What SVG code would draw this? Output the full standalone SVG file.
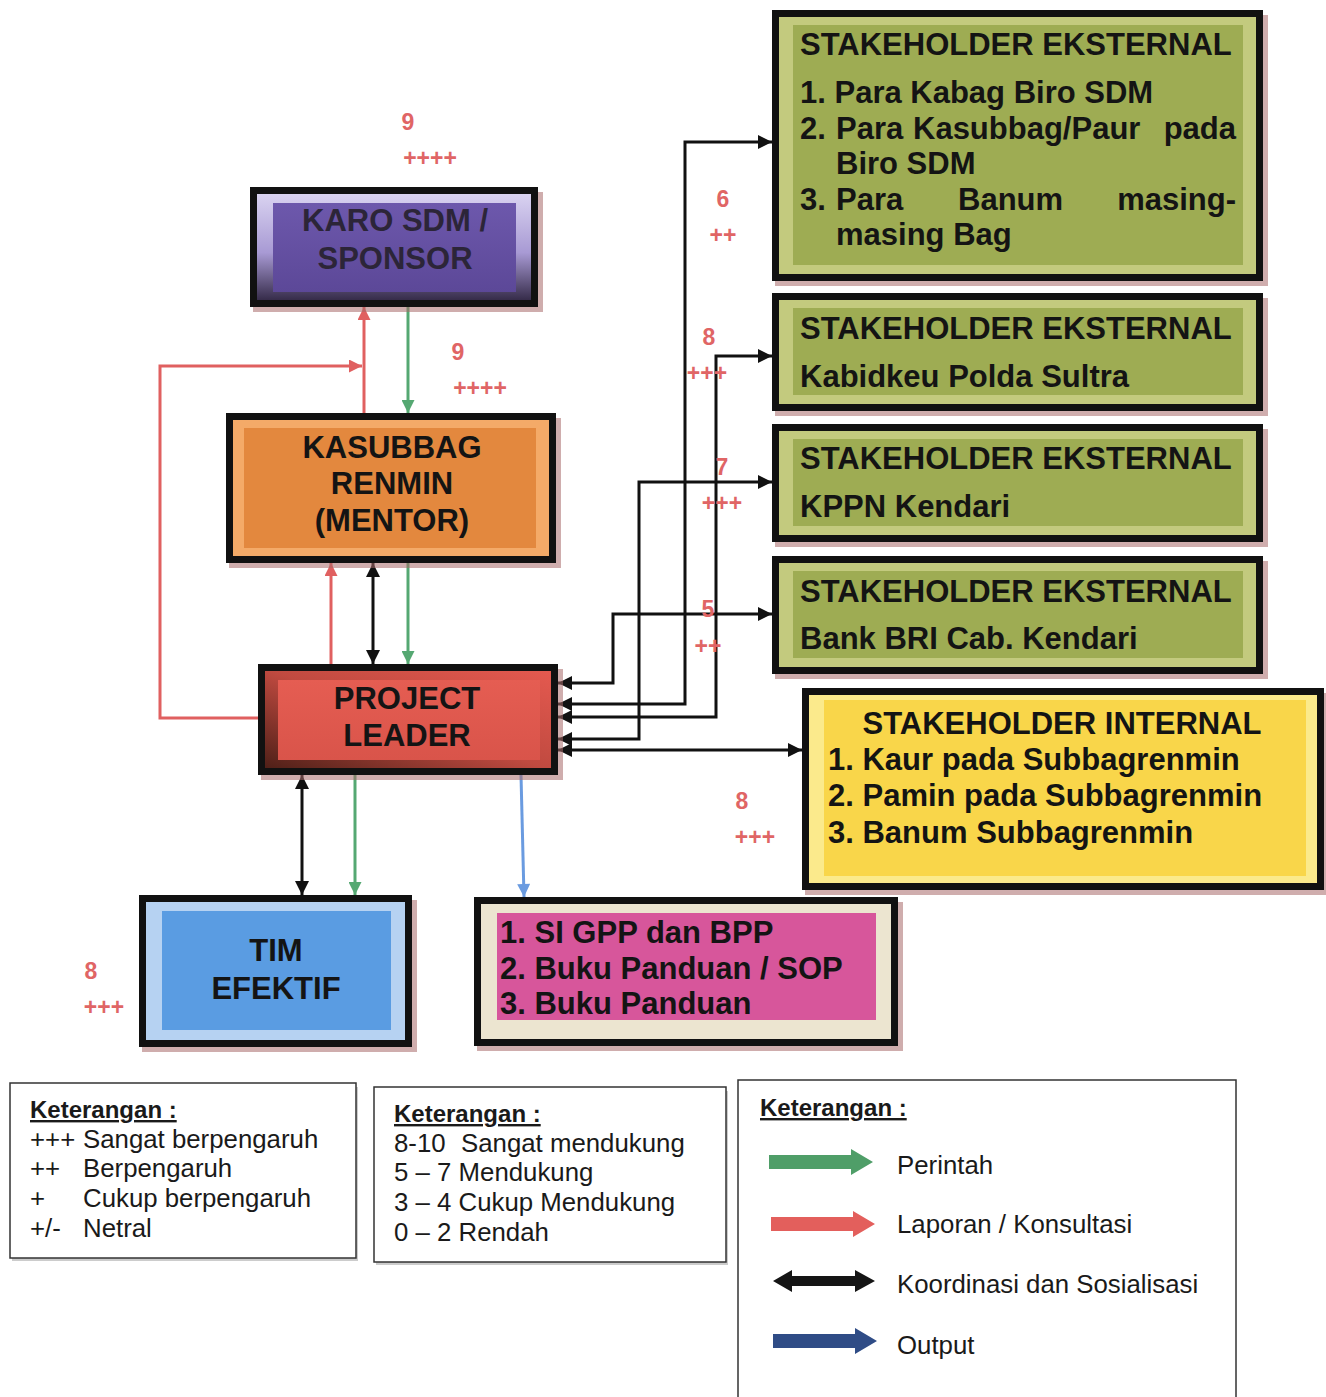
<svg xmlns="http://www.w3.org/2000/svg" width="1326" height="1397" viewBox="0 0 1326 1397">
<style>
.nt{font-family:"Liberation Sans",Arial,sans-serif;font-weight:bold;font-size:31px;fill:#141414}
.ntc{font-family:"Liberation Sans",Arial,sans-serif;font-weight:bold;font-size:31px;fill:#141414;text-anchor:middle}
.rl{font-family:"Liberation Sans",Arial,sans-serif;font-weight:bold;font-size:23px;fill:#e06565;text-anchor:middle}
.lg{font-family:"Liberation Sans",Arial,sans-serif;font-size:25.8px;fill:#1a1a1a}
.lh{font-family:"Liberation Sans",Arial,sans-serif;font-size:24px;font-weight:bold;fill:#1a1a1a;text-decoration:underline}
.bd{fill:none;stroke:#111;stroke-width:7}
.sh{fill:#a86a6a;opacity:0.55}
.cb{fill:none;stroke:#111;stroke-width:3}
.cr{fill:none;stroke:#e06060;stroke-width:3}
.cg{fill:none;stroke:#55a872;stroke-width:3}
.cu{fill:none;stroke:#6a9be0;stroke-width:3}
.lbox{fill:#fff;stroke:#333;stroke-width:1.5}
</style>
<defs>
<marker id="ab" viewBox="0 0 10 10" refX="10" refY="5" markerWidth="15" markerHeight="14" markerUnits="userSpaceOnUse" orient="auto-start-reverse"><path d="M0,0 L10,5 L0,10 z" fill="#111"/></marker>
<marker id="ar" viewBox="0 0 10 10" refX="10" refY="5" markerWidth="15" markerHeight="13" markerUnits="userSpaceOnUse" orient="auto-start-reverse"><path d="M0,0 L10,5 L0,10 z" fill="#e06060"/></marker>
<marker id="ag" viewBox="0 0 10 10" refX="10" refY="5" markerWidth="15" markerHeight="13" markerUnits="userSpaceOnUse" orient="auto-start-reverse"><path d="M0,0 L10,5 L0,10 z" fill="#55a872"/></marker>
<marker id="au" viewBox="0 0 10 10" refX="10" refY="5" markerWidth="15" markerHeight="13" markerUnits="userSpaceOnUse" orient="auto-start-reverse"><path d="M0,0 L10,5 L0,10 z" fill="#6a9be0"/></marker>
<linearGradient id="gKaroF" x1="0" y1="0" x2="0" y2="1"><stop offset="0" stop-color="#dcd6f2"/><stop offset="0.55" stop-color="#a89ad4"/><stop offset="1" stop-color="#2e2440"/></linearGradient>
<linearGradient id="gKaroI" x1="0" y1="0" x2="0" y2="1"><stop offset="0" stop-color="#6d58ac"/><stop offset="1" stop-color="#5c4898"/></linearGradient>
<linearGradient id="gPLF" x1="1" y1="0" x2="0" y2="1"><stop offset="0" stop-color="#e65a50"/><stop offset="0.5" stop-color="#c04a40"/><stop offset="1" stop-color="#4a1e16"/></linearGradient>
<linearGradient id="gPLI" x1="0" y1="0" x2="0" y2="1"><stop offset="0" stop-color="#e55d52"/><stop offset="1" stop-color="#d9544a"/></linearGradient>
</defs>

<g id="connectors">
<path class="cr" d="M364,413 V307" marker-end="url(#ar)"/>
<path class="cg" d="M408,307 V413" marker-end="url(#ag)"/>
<path class="cr" d="M258,718 H160 V366 H362" marker-end="url(#ar)"/>
<path class="cr" d="M331,664 V563" marker-end="url(#ar)"/>
<path class="cb" d="M373,563 V664" marker-start="url(#ab)" marker-end="url(#ab)"/>
<path class="cg" d="M408,563 V664" marker-end="url(#ag)"/>
<path class="cb" d="M302,775 V895" marker-start="url(#ab)" marker-end="url(#ab)"/>
<path class="cg" d="M355,775 V895" marker-end="url(#ag)"/>
<path class="cu" d="M521,775 L524,897" marker-end="url(#au)"/>
<path class="cb" d="M558,683 H613 V614 H772" marker-start="url(#ab)" marker-end="url(#ab)"/>
<path class="cb" d="M558,704 H685 V142 H772" marker-start="url(#ab)" marker-end="url(#ab)"/>
<path class="cb" d="M558,717 H716 V356 H772" marker-start="url(#ab)" marker-end="url(#ab)"/>
<path class="cb" d="M558,739 H639 V482 H772" marker-start="url(#ab)" marker-end="url(#ab)"/>
<path class="cb" d="M558,750 H802" marker-start="url(#ab)" marker-end="url(#ab)"/>
</g>

<g id="labels">
<text class="rl" x="408" y="130">9</text>
<text class="rl" x="430" y="166">++++</text>
<text class="rl" x="458" y="360">9</text>
<text class="rl" x="480" y="396">++++</text>
<text class="rl" x="723" y="207">6</text>
<text class="rl" x="723" y="243">++</text>
<text class="rl" x="709" y="345">8</text>
<text class="rl" x="707" y="381">+++</text>
<text class="rl" x="722" y="475">7</text>
<text class="rl" x="722" y="511">+++</text>
<text class="rl" x="708" y="617">5</text>
<text class="rl" x="708" y="654">++</text>
<text class="rl" x="742" y="809">8</text>
<text class="rl" x="755" y="845">+++</text>
<text class="rl" x="91" y="979">8</text>
<text class="rl" x="104" y="1015">+++</text>
</g>

<g id="karo">
<rect class="sh" x="253" y="192" width="290" height="120"/>
<rect x="253.5" y="190.5" width="281" height="113" fill="url(#gKaroF)"/>
<rect x="273" y="203" width="243" height="89" fill="url(#gKaroI)"/>
<rect class="bd" x="253.5" y="190.5" width="281" height="113"/>
<text class="ntc" x="395" y="231" style="fill:#2c2538">KARO SDM /</text>
<text class="ntc" x="395" y="269" style="fill:#2c2538">SPONSOR</text>
</g>

<g id="kasubbag">
<rect class="sh" x="229" y="418" width="332" height="150"/>
<rect x="229.5" y="416.5" width="323" height="143" fill="#f4aa68"/>
<rect x="244" y="428" width="292" height="120" fill="#e3883e"/>
<rect class="bd" x="229.5" y="416.5" width="323" height="143"/>
<text class="ntc" x="392" y="458">KASUBBAG</text>
<text class="ntc" x="392" y="494">RENMIN</text>
<text class="ntc" x="392" y="531">(MENTOR)</text>
</g>

<g id="project-leader">
<rect class="sh" x="261" y="669" width="302" height="111"/>
<rect x="261.5" y="667.5" width="293" height="104" fill="url(#gPLF)"/>
<rect x="278" y="680" width="262" height="80" fill="url(#gPLI)"/>
<rect class="bd" x="261.5" y="667.5" width="293" height="104"/>
<text class="ntc" x="407" y="709">PROJECT</text>
<text class="ntc" x="407" y="746">LEADER</text>
</g>

<g id="tim-efektif">
<rect class="sh" x="142" y="900" width="275" height="152"/>
<rect x="142.5" y="898.5" width="266" height="145" fill="#b6d2f2"/>
<rect x="162" y="911" width="229" height="119" fill="#5a9ce2"/>
<rect class="bd" x="142.5" y="898.5" width="266" height="145"/>
<text class="ntc" x="276" y="961">TIM</text>
<text class="ntc" x="276" y="999">EFEKTIF</text>
</g>

<g id="output">
<rect class="sh" x="477" y="902" width="426" height="149"/>
<rect x="477.5" y="900.5" width="417" height="142" fill="#ece5d0"/>
<rect x="497" y="913" width="379" height="107" fill="#d7569b"/>
<rect class="bd" x="477.5" y="900.5" width="417" height="142"/>
<text class="nt" x="500" y="943">1. SI GPP dan BPP</text>
<text class="nt" x="500" y="979">2. Buku Panduan / SOP</text>
<text class="nt" x="500" y="1014">3. Buku Panduan</text>
</g>

<g id="stakeholder-eksternal-1">
<rect class="sh" x="775" y="15" width="493" height="271"/>
<rect x="775.5" y="13.5" width="484" height="264" fill="#c3ca7e"/>
<rect x="793" y="25" width="450" height="240" fill="#9eac53"/>
<rect class="bd" x="775.5" y="13.5" width="484" height="264"/>
<text class="nt" x="800" y="55">STAKEHOLDER EKSTERNAL</text>
<text class="nt" x="800" y="103">1. Para Kabag Biro SDM</text>
<text class="nt" y="139"><tspan x="800">2.</tspan><tspan x="836">Para</tspan><tspan x="913">Kasubbag/Paur</tspan><tspan x="1236" text-anchor="end">pada</tspan></text>
<text class="nt" x="836" y="174">Biro SDM</text>
<text class="nt" y="210"><tspan x="800">3.</tspan><tspan x="836">Para</tspan><tspan x="958">Banum</tspan><tspan x="1236" text-anchor="end">masing-</tspan></text>
<text class="nt" x="836" y="245">masing Bag</text>
</g>

<g id="stakeholder-eksternal-2">
<rect class="sh" x="775" y="298" width="493" height="118"/>
<rect x="775.5" y="296.5" width="484" height="111" fill="#c3ca7e"/>
<rect x="793" y="308" width="450" height="87" fill="#9eac53"/>
<rect class="bd" x="775.5" y="296.5" width="484" height="111"/>
<text class="nt" x="800" y="339">STAKEHOLDER EKSTERNAL</text>
<text class="nt" x="800" y="387">Kabidkeu Polda Sultra</text>
</g>

<g id="stakeholder-eksternal-3">
<rect class="sh" x="775" y="429" width="493" height="118"/>
<rect x="775.5" y="427.5" width="484" height="111" fill="#c3ca7e"/>
<rect x="793" y="439" width="450" height="87" fill="#9eac53"/>
<rect class="bd" x="775.5" y="427.5" width="484" height="111"/>
<text class="nt" x="800" y="469">STAKEHOLDER EKSTERNAL</text>
<text class="nt" x="800" y="517">KPPN Kendari</text>
</g>

<g id="stakeholder-eksternal-4">
<rect class="sh" x="775" y="561" width="493" height="118"/>
<rect x="775.5" y="559.5" width="484" height="111" fill="#c3ca7e"/>
<rect x="793" y="571" width="450" height="87" fill="#9eac53"/>
<rect class="bd" x="775.5" y="559.5" width="484" height="111"/>
<text class="nt" x="800" y="602">STAKEHOLDER EKSTERNAL</text>
<text class="nt" x="800" y="649">Bank BRI Cab. Kendari</text>
</g>

<g id="stakeholder-internal">
<rect class="sh" x="805" y="693" width="521" height="202"/>
<rect x="805.5" y="691.5" width="515" height="195" fill="#fbea8c"/>
<rect x="824" y="700" width="482" height="176" fill="#f9d64a"/>
<rect class="bd" x="805.5" y="691.5" width="515" height="195"/>
<text class="ntc" x="1062" y="734">STAKEHOLDER INTERNAL</text>
<text class="nt" x="828" y="770">1. Kaur pada Subbagrenmin</text>
<text class="nt" x="828" y="806">2. Pamin pada Subbagrenmin</text>
<text class="nt" x="828" y="843">3. Banum Subbagrenmin</text>
</g>

<g id="legend-pengaruh">
<rect x="12" y="1087" width="346" height="174" fill="#999" opacity="0.5"/>
<rect class="lbox" x="10" y="1083" width="346" height="175"/>
<text class="lh" x="30" y="1118">Keterangan :</text>
<text class="lg" x="30" y="1148">+++</text><text class="lg" x="83" y="1148">Sangat berpengaruh</text>
<text class="lg" x="30" y="1177">++</text><text class="lg" x="83" y="1177">Berpengaruh</text>
<text class="lg" x="30" y="1207">+</text><text class="lg" x="83" y="1207">Cukup berpengaruh</text>
<text class="lg" x="30" y="1237">+/-</text><text class="lg" x="83" y="1237">Netral</text>
</g>

<g id="legend-dukungan">
<rect x="376" y="1091" width="352" height="174" fill="#999" opacity="0.5"/>
<rect class="lbox" x="374" y="1087" width="352" height="175"/>
<text class="lh" x="394" y="1122">Keterangan :</text>
<text class="lg" x="394" y="1152">8-10</text><text class="lg" x="461" y="1152">Sangat mendukung</text>
<text class="lg" x="394" y="1181">5 – 7 Mendukung</text>
<text class="lg" x="394" y="1211">3 – 4 Cukup Mendukung</text>
<text class="lg" x="394" y="1241">0 – 2 Rendah</text>
</g>

<g id="legend-panah">
<rect class="lbox" x="738" y="1080" width="498" height="330"/>
<text class="lh" x="760" y="1116">Keterangan :</text>
<polygon points="769,1155 851,1155 851,1149 873,1162 851,1175 851,1169 769,1169" fill="#4f9e68"/>
<text class="lg" x="897" y="1174">Perintah</text>
<polygon points="771,1217 853,1217 853,1211 875,1224 853,1237 853,1231 771,1231" fill="#e35f5c"/>
<text class="lg" x="897" y="1233">Laporan / Konsultasi</text>
<polygon points="773,1281 792,1270 792,1276 855,1276 855,1270 875,1281 855,1292 855,1286 792,1286 792,1292" fill="#151515"/>
<text class="lg" x="897" y="1293">Koordinasi dan Sosialisasi</text>
<polygon points="773,1334 855,1334 855,1328 877,1341 855,1354 855,1348 773,1348" fill="#2f4c86"/>
<text class="lg" x="897" y="1354">Output</text>
</g>
</svg>
